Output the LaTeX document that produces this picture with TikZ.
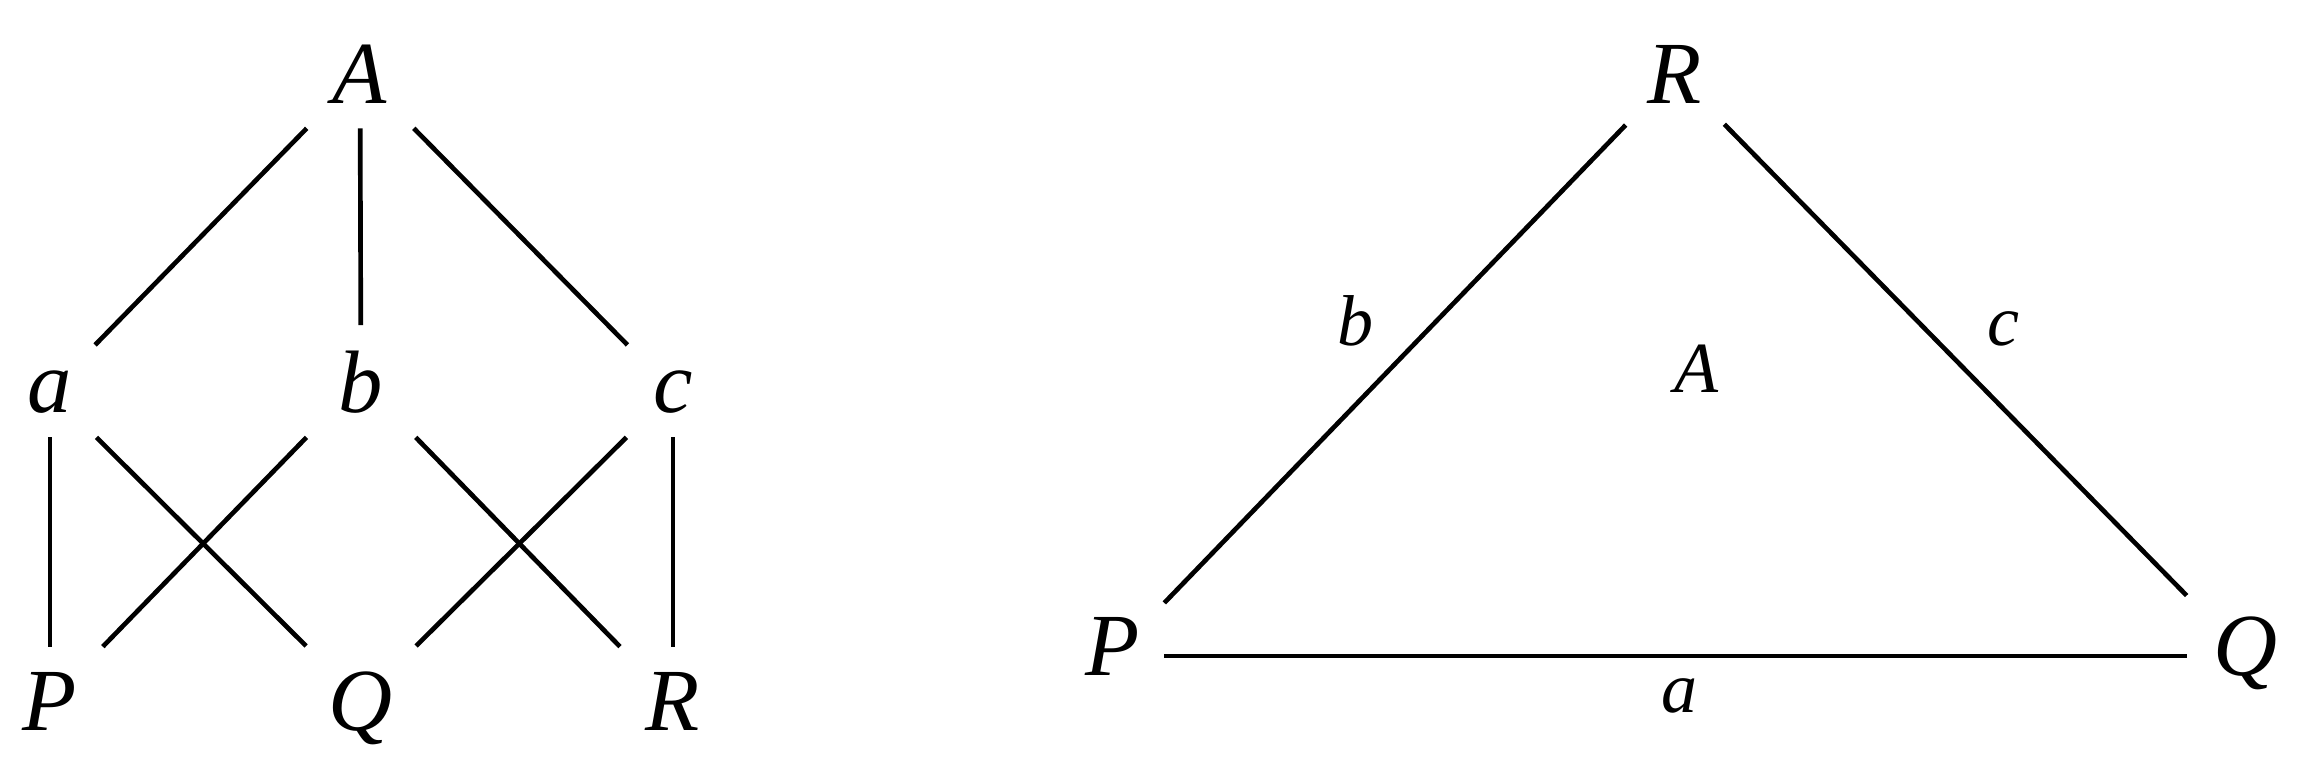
\documentclass[tikz,border=0pt]{standalone}
\usepackage{fontspec}
\setmainfont{Liberation Serif}
\begin{document}
\begin{tikzpicture}[x=0.15pt,y=-0.15pt,
  vbig/.style={font=\fontsize{13.3}{16}\selectfont\itshape, anchor=base,
    text depth=0pt, inner xsep=0pt, inner ysep=3.6pt, minimum width=18pt},
  vtri/.style={font=\fontsize{13.3}{16}\selectfont\itshape, anchor=base,
    text height=8.7pt, text depth=3pt, inner xsep=0pt, inner ysep=3.6pt},
  lbl/.style={font=\fontsize{10.8}{13}\selectfont\itshape, anchor=base, inner sep=0pt},
  edge/.style={draw=black, line width=0.7pt}]
\useasboundingbox (0,0) rectangle (2316,782);
% left lattice
\node[vbig] (A) at (360,103) {A};
\node[vbig] (a) at (50,412) {a};
\node[vbig] (b) at (361,412) {b};
\node[vbig] (c) at (673,412) {c};
\node[vbig] (P) at (50,730) {P};
\node[vbig] (Q) at (361,730) {Q};
\node[vbig] (R) at (673,730) {R};
\draw[edge] (A) -- (a);
\draw[edge] (A) -- (b);
\draw[edge] (A) -- (c);
\draw[edge] (a) -- (P);
\draw[edge] (a) -- (Q);
\draw[edge] (b) -- (P);
\draw[edge] (b) -- (R);
\draw[edge] (c) -- (Q);
\draw[edge] (c) -- (R);
% right triangle
\node[vbig, minimum width=14.4pt] (tR) at (1675,103) {R};
\node[vtri, minimum width=15pt] (tP) at (1113,675) {P};
\node[vtri, minimum width=17.4pt] (tQ) at (2246,675) {Q};
\draw[edge] (tP) -- (tR);
\draw[edge] (tR) -- (tQ);
\draw[edge] (tP) -- (tQ);
\node[lbl] (lb) at (1355,345) {b};
\node[lbl] (lc) at (2003,345) {c};
\node[lbl] (lA) at (1696,392) {A};
\node[lbl] (la) at (1679,712) {a};
\end{tikzpicture}
\end{document}
